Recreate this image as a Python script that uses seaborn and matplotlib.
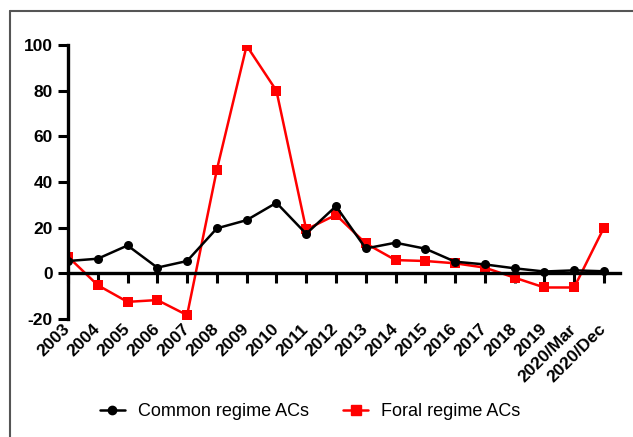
import numpy as np
import pandas as pd
import seaborn as sns
import matplotlib.pyplot as plt
from matplotlib.lines import Line2D

years = ["2003", "2004", "2005", "2006", "2007", "2008", "2009", "2010", "2011",
         "2012", "2013", "2014", "2015", "2016", "2017", "2018", "2019",
         "2020/Mar", "2020/Dec"]
common = [5.4, 6.4, 12.2, 2.5, 5.4, 19.7, 23.3, 30.9, 17.3, 29.4, 10.9, 13.4,
          10.8, 5.1, 3.9, 2.2, 0.8, 1.3, 0.9]
foral = [7.3, -5.2, -12.5, -11.7, -18.3, 45.4, 99.7, 80.0, 19.2, 25.6, 13.1, 5.8,
         5.4, 4.4, 2.5, -1.9, -6.2, -6.2, 20.0]

df = pd.DataFrame({"period": years, "Common regime ACs": common, "Foral regime ACs": foral})
df["pos"] = np.arange(len(years))

sns.set_style("ticks")
plt.rcParams["font.family"] = ["Liberation Sans", "DejaVu Sans"]
plt.rcParams["axes.unicode_minus"] = False
plt.rcParams["text.color"] = "black"

fig = plt.figure(figsize=(6.33, 4.37), dpi=100)
ax = fig.add_axes([68 / 633, 1 - 319 / 437, (620 - 68) / 633, (319 - 45) / 437])

sns.lineplot(data=df, x="pos", y="Foral regime ACs", ax=ax, color="#ff0000",
             marker="s", markersize=7, markeredgewidth=0, linewidth=1.8,
             zorder=2, legend=False)
sns.lineplot(data=df, x="pos", y="Common regime ACs", ax=ax, color="black",
             marker="o", markersize=6.5, markeredgewidth=0, linewidth=1.8,
             zorder=3, legend=False)

ax.set_xlim(0, 18.54)
ax.set_ylim(-20, 100)
ax.set_xlabel("")
ax.set_ylabel("")

for s in ["top", "right"]:
    ax.spines[s].set_visible(False)
for s in ["left", "bottom"]:
    ax.spines[s].set_linewidth(2.4)
    ax.spines[s].set_color("black")
ax.spines["bottom"].set_position(("data", 0))
ax.tick_params(axis="both", which="major", direction="out", length=7.5, width=2.2,
               color="black", labelcolor="black", labelsize=12.5, bottom=True, left=True)
ax.tick_params(axis="x", pad=31)

ax.set_yticks([-20, 0, 20, 40, 60, 80, 100])
ax.set_xticks(df["pos"])
ax.set_xticklabels(years, rotation=45, ha="right", va="center", rotation_mode="anchor",
                   fontweight="bold")
plt.setp(ax.get_yticklabels(), fontweight="bold")
ax.patch.set_alpha(0)

handles = [Line2D([], [], color="black", marker="o", markersize=6, lw=1.8),
           Line2D([], [], color="#ff0000", marker="s", markersize=6.5, lw=1.8)]
fig.legend(handles, ["Common regime ACs", "Foral regime ACs"], loc="center",
           bbox_to_anchor=(310 / 633, 1 - 412 / 437), ncol=2, frameon=False,
           fontsize=13, handlelength=1.4, handletextpad=0.7, columnspacing=1.9)

# outer frame lines
fig.add_artist(Line2D([10 / 633, 1], [1 - 11 / 437] * 2, transform=fig.transFigure,
                      color="#555555", lw=1.5))
fig.add_artist(Line2D([10 / 633] * 2, [0, 1 - 11 / 437], transform=fig.transFigure,
                      color="#555555", lw=1.5))

fig.savefig("out.png", dpi=100)
